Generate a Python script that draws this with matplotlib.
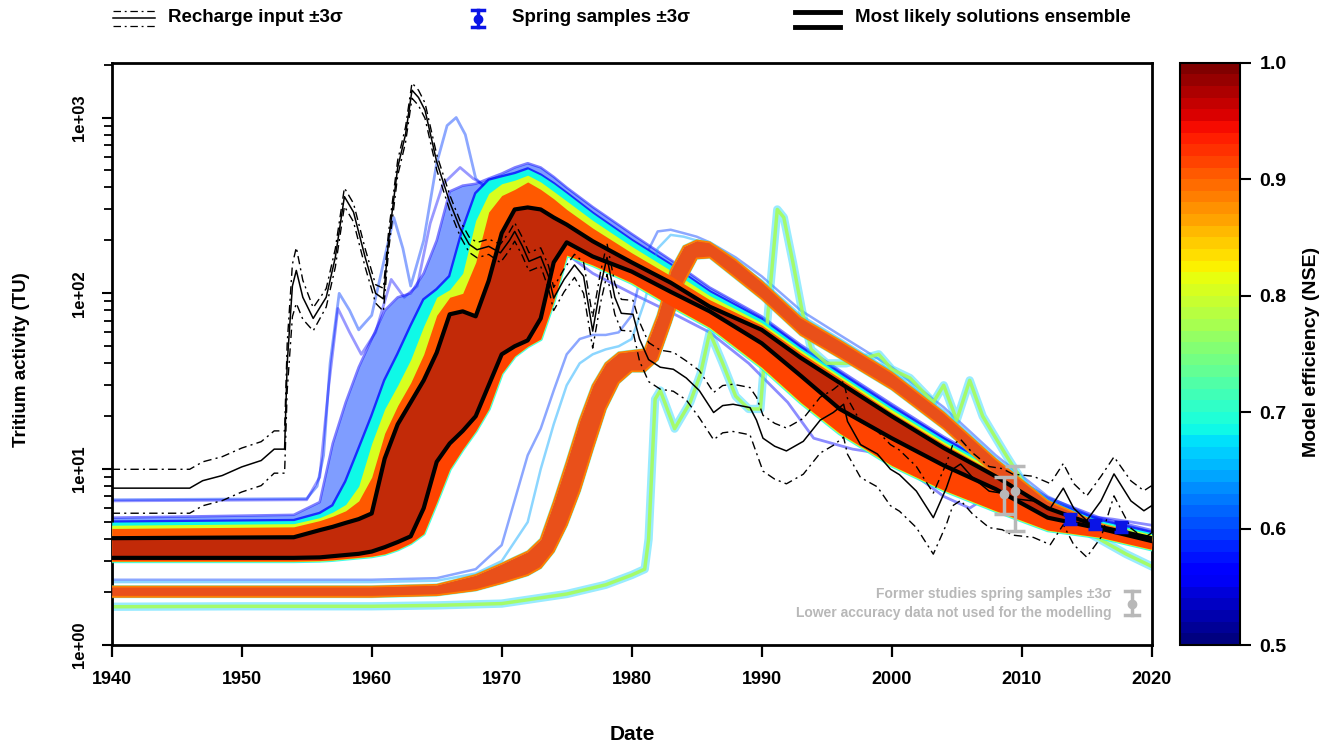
import numpy as np
import matplotlib
matplotlib.use('Agg')
import matplotlib.pyplot as plt
from matplotlib.colors import Normalize, ListedColormap
from matplotlib.cm import ScalarMappable
from matplotlib.lines import Line2D
from matplotlib.ticker import FixedLocator, LogLocator, NullFormatter

plt.rcParams['font.family'] = ['Liberation Sans', 'DejaVu Sans']
plt.rcParams['font.weight'] = 'bold'

#Recharge input (TU) and relative 3 sigma--------------------------------------------------------
rech_yr = [1940, 1946, 1947, 1948.5, 1950, 1951.5, 1952.5, 1953.3, 1953.5, 1953.9, 1954.2, 1954.7,
           1955.5, 1956.5, 1957.2, 1957.9, 1958.6, 1959.5, 1960.3, 1960.9, 1961.3, 1962.0, 1962.6,
           1963.1, 1963.6, 1964.1, 1965.0, 1966.0, 1966.8, 1967.5, 1968.1, 1969.0, 1969.9, 1970.6,
           1971.0, 1971.6, 1972.1, 1973.0, 1973.6, 1974.0, 1974.8, 1975.6, 1976.3, 1977.0, 1977.6,
           1978.1, 1978.7, 1979.2, 1980.1, 1980.6, 1981.3, 1982.2, 1983.2, 1984.2, 1985.2, 1986.3,
           1987.0, 1987.8, 1989.1, 1989.6, 1990.1, 1991.0, 1991.9, 1993.2, 1994.5, 1995.5, 1996.3,
           1996.6, 1997.6, 1998.9, 1999.9, 2000.6, 2001.9, 2003.2, 2004.2, 2004.7, 2005.3, 2006.2,
           2007.5, 2008.5, 2009.3, 2010.9, 2012.2, 2013.2, 2014.0, 2015.0, 2016.1, 2017.1, 2018.4,
           2019.4, 2020.0]
rech_val = [7.8, 7.8, 8.6, 9.2, 10.3, 11.2, 13.0, 13.0, 40, 110, 135, 95,
            72, 95, 160, 355, 290, 160, 100, 93, 200, 520, 800,
            1430, 1300, 1100, 560, 330, 235, 190, 177, 185, 170, 200,
            225, 185, 152, 162, 125, 94, 120, 145, 125, 61, 110,
            160, 95, 77, 76, 55, 42, 38, 37, 33, 28, 21,
            23, 23.4, 22.4, 19, 15, 13.5, 12.7, 14.4, 19, 21, 23.4,
            18.7, 13.8, 12.2, 10, 9.3, 7.5, 5.3, 7.8, 10, 10.7, 9.0,
            7.5, 7.3, 6.8, 6.6, 6.0, 7.8, 6.0, 5.1, 6.6, 9.4, 6.6,
            5.8, 6.2]
rech_err = [0.28, 0.28, 0.28, 0.28, 0.28, 0.28, 0.27, 0.27, 0.30, 0.33, 0.35, 0.25,
            0.15, 0.12, 0.12, 0.12, 0.12, 0.12, 0.12, 0.15, 0.12, 0.10, 0.10,
            0.10, 0.10, 0.10, 0.10, 0.10, 0.10, 0.10, 0.10, 0.10, 0.12, 0.12,
            0.12, 0.12, 0.12, 0.12, 0.15, 0.15, 0.15, 0.15, 0.20, 0.20, 0.20,
            0.20, 0.20, 0.20, 0.20, 0.25, 0.25, 0.25, 0.25, 0.25, 0.30, 0.30,
            0.30, 0.30, 0.30, 0.35, 0.35, 0.35, 0.35, 0.35, 0.35, 0.35, 0.35,
            0.35, 0.35, 0.35, 0.38, 0.38, 0.38, 0.38, 0.38, 0.38, 0.38, 0.38,
            0.38, 0.38, 0.38, 0.38, 0.38, 0.38, 0.38, 0.38, 0.38, 0.25, 0.30,
            0.30, 0.30]

#Main ensemble (members sorted by efficiency)-----------------------------------------------------
yrA = [1940, 1954, 1956, 1957, 1958, 1959, 1960, 1961, 1962, 1963, 1964, 1965, 1966, 1967, 1968,
       1969, 1970, 1971, 1972, 1973, 1974, 1975, 1977, 1980, 1983, 1986, 1990, 1993, 1996, 2000,
       2004, 2008, 2012, 2016, 2020]
A_blue = [5.3, 5.5, 6.5, 14, 24, 38, 55, 80, 95, 100, 130, 200, 380, 410, 420,
          450, 480, 520, 550, 520, 460, 400, 310, 218, 155, 108, 74, 51, 36.5, 23.5,
          15.3, 10.5, 6.9, 5.3, 4.5]
A_cyan = [5.0, 5.1, 5.6, 6.2, 8.5, 13, 20, 32, 45, 65, 92, 105, 125, 230, 370,
          440, 460, 480, 510, 470, 420, 370, 285, 200, 145, 102, 71, 49, 35, 22.5,
          14.8, 10.1, 6.6, 5.1, 4.35]
A_yellow = [4.8, 4.9, 5.3, 5.7, 6.3, 8, 14, 22, 30, 42, 65, 95, 105, 130, 260,
            370, 420, 440, 470, 430, 380, 335, 260, 185, 135, 97, 68, 47.5, 34, 21.8,
            14.3, 9.8, 6.4, 5.0, 4.25]
A_orange = [4.6, 4.7, 5.1, 5.4, 5.8, 6.6, 9, 16, 23, 31, 45, 75, 95, 100, 150,
            290, 360, 390, 430, 390, 345, 300, 235, 170, 126, 92, 66, 46, 33, 21,
            13.9, 9.5, 6.2, 4.85, 4.15]
A_hi = [4.05, 4.1, 4.5, 4.7, 4.95, 5.2, 5.6, 11.5, 18, 24, 32, 46, 76, 79, 74,
        118, 220, 300, 308, 300, 270, 246, 198, 150, 115, 84, 62, 43, 31, 20,
        13.2, 9.1, 6.0, 4.7, 4.05]
A_lo = [3.13, 3.13, 3.15, 3.2, 3.25, 3.3, 3.4, 3.6, 3.85, 4.15, 6.0, 11, 14, 16.5, 20,
        30, 45, 50, 54, 72, 150, 195, 162, 133, 102, 79, 52, 34, 22, 15,
        10.5, 7.7, 5.3, 4.6, 3.9]
A_late = [3.0, 3.0, 3.02, 3.05, 3.1, 3.15, 3.2, 3.3, 3.5, 3.8, 4.3, 6.5, 10, 13, 16.5,
          22, 35, 44, 50, 55, 90, 165, 145, 115, 85, 64, 38, 24, 16, 10.5,
          7.6, 5.8, 4.5, 4.1, 3.5]

# blue members of the main ensemble that decay faster
ABL_yr = [1974, 1977, 1980, 1983, 1986, 1989, 1992, 1994, 1997, 2000, 2002, 2004, 2006, 2008,
          2011, 2014, 2017, 2020]
ABL_val = [190, 130, 100, 78, 60, 40, 24, 15, 13, 12, 9, 7, 6, 7.5, 6, 5.5, 5.2, 4.8]

# blue members following the input peaks
D1_yr = [1940, 1955, 1955.8, 1956.3, 1956.8, 1957.5, 1958.3, 1959, 1960, 1961, 1961.7, 1962.4,
         1963, 1964, 1965, 1965.8, 1966.5, 1967.2, 1968, 1969, 1970, 1972, 1974, 1977]
D1_val = [6.7, 6.8, 8, 12, 40, 100, 80, 62, 75, 160, 270, 180,
          110, 200, 550, 900, 1000, 800, 450, 380, 420, 450, 350, 260]
D2_yr = [1940, 1955, 1956, 1956.7, 1957.4, 1958.3, 1959.2, 1960.3, 1961.5, 1962.5, 1963.5,
         1964.5, 1965.5, 1966.8, 1967.8, 1969, 1970.5, 1972, 1974, 1977]
D2_val = [6.6, 6.7, 9, 30, 82, 60, 45, 60, 120, 95, 110,
          250, 420, 520, 450, 400, 430, 460, 360, 270]

#Second ensemble (late arrival)--------------------------------------------------------------------
yrB = [1940, 1960, 1965, 1968, 1970, 1972, 1973, 1974, 1975, 1976, 1977, 1978, 1979, 1980, 1981,
       1982, 1983, 1984, 1985, 1986, 1988, 1990, 1993, 1996, 2000, 2004, 2008, 2012, 2016, 2020]
B_hi = [2.15, 2.15, 2.2, 2.5, 2.9, 3.4, 4.0, 6.5, 11, 19, 30, 40, 46, 47, 48,
        75, 135, 185, 200, 195, 155, 117, 73, 54, 35.5, 21, 11.4, 6.6, 4.9, 4.05]
B_lo = [1.88, 1.88, 1.92, 2.05, 2.25, 2.5, 2.75, 3.4, 4.8, 7.5, 13, 22, 31, 36, 36,
        42, 68, 115, 158, 160, 122, 93, 58, 43, 28.5, 17, 9.2, 5.7, 4.3, 3.65]
B_blue1 = [2.35, 2.35, 2.4, 2.7, 3.7, 12, 17, 28, 45, 55, 58, 58, 60, 75, 160,
           225, 230, 220, 210, 195, 160, 125, 80, 58, 38, 22.5, 12, 7, 5.1, 4.2]
B_blue2 = [2.28, 2.28, 2.32, 2.55, 3.0, 5, 10, 18, 30, 40, 45, 48, 50, 55, 90,
           180, 215, 210, 200, 190, 150, 118, 75, 55, 36, 21.5, 11.5, 6.7, 4.9, 4.1]

#Third ensemble (very late, lower efficiency)------------------------------------------------------
yrC = [1940, 1950, 1960, 1965, 1970, 1975, 1978, 1980, 1981, 1981.3, 1981.8, 1982.2, 1983.3,
       1984.5, 1985.3, 1986, 1987, 1988, 1989, 1989.9, 1990.5, 1991.2, 1991.7, 1992.4, 1993.1,
       1993.8, 1995, 1996.5, 1998, 1999, 2000, 2001.4, 2003.2, 2004, 2005, 2006, 2007, 2008.8,
       2010.4, 2012.4, 2015, 2018, 2020]
C_val = [1.65, 1.66, 1.66, 1.68, 1.72, 1.95, 2.2, 2.5, 2.7, 4, 25, 28, 17,
         24, 35, 60, 40, 26, 22, 22, 80, 300, 270, 150, 80,
         48, 40, 40, 43, 45, 37, 33, 24, 30, 19, 32, 20, 12,
         7.8, 6.0, 4.4, 3.3, 2.8]

#Spring samples------------------------------------------------------------------------------------
spr_yr = [2013.7, 2015.6, 2017.6]
spr_val = [5.2, 4.85, 4.7]
spr_err = [0.35, 0.3, 0.3]
old_yr = [2008.6, 2009.5]
old_val = [7.2, 7.5]
old_lo = [5.55, 4.45]
old_hi = [9.0, 10.4]

W, H = 1338, 746
cmap = ListedColormap(plt.get_cmap('jet')(np.linspace(0, 1, 50)))
norm = Normalize(0.5, 1.0)
GREY = '#b8b8b8'
BLUE = '#0a14e6'


def col(nse):
    return cmap(norm(nse))


def px(x, y):
    return x / W, 1 - y / H


fig = plt.figure(figsize=(W / 100, H / 100), dpi=100)
ax = fig.add_axes([111.7 / W, 1 - 645 / H, 1040 / W, 582.3 / H])
cax = fig.add_axes([1180 / W, 1 - 645 / H, 60 / W, 582.3 / H])

# low efficiency members first
ax.plot(D1_yr, D1_val, color=col(0.6), lw=2, alpha=0.45, zorder=1)
ax.plot(D2_yr, D2_val, color=col(0.57), lw=2, alpha=0.4, zorder=1)
ax.fill_between(yrA, A_lo, A_blue, color=col(0.6), alpha=0.5, lw=0, zorder=1)
ax.plot(yrA, A_blue, color=col(0.57), lw=1.8, alpha=0.5, zorder=1)
ax.plot(yrA, A_cyan, color=col(0.58), lw=2.5, alpha=0.8, zorder=1)
ax.plot(ABL_yr, ABL_val, color=col(0.57), lw=2, alpha=0.45, zorder=1)
ax.plot(yrB, B_blue1, color=col(0.6), lw=1.8, alpha=0.45, zorder=1)
ax.plot(yrB, B_blue2, color=col(0.64), lw=1.8, alpha=0.45, zorder=1)

ax.plot(yrC, C_val, color=col(0.66), lw=6, alpha=0.4, zorder=2)
ax.plot(yrC, C_val, color=col(0.77), lw=2.5, alpha=0.85, zorder=2)

ax.fill_between(yrA, A_lo, A_cyan, color=col(0.69), lw=0, zorder=3)
ax.fill_between(yrA, A_lo, A_yellow, color=col(0.8), lw=0, zorder=3)
ax.plot(yrA, A_late, color=col(0.68), lw=3, alpha=0.8, zorder=3)
ax.plot(yrA, A_late, color=col(0.8), lw=1.5, zorder=3)

ax.plot(yrB, B_hi, color=col(0.7), lw=2, alpha=0.6, zorder=4)
ax.plot(yrB, B_lo, color=col(0.7), lw=2, alpha=0.6, zorder=4)
ax.fill_between(yrB, B_lo, B_hi, color='#e9501a', lw=0, zorder=4)
ax.plot(yrB, B_hi, color=col(0.88), lw=1.3, zorder=4)
ax.plot(yrB, B_lo, color=col(0.88), lw=1.3, zorder=4)

ax.fill_between(yrA, A_lo, A_orange, color=col(0.9), lw=0, zorder=5)
ax.fill_between(yrA, A_late, A_lo, color=col(0.91), lw=0, zorder=5)
ax.fill_between(yrA, A_lo, A_hi, color='#c22a08', lw=0, zorder=6)
ax.plot(yrA, A_hi, color='black', lw=3, zorder=7)
ax.plot(yrA, A_lo, color='black', lw=3, zorder=7)

# recharge input and its 3 sigma bounds
rv = np.array(rech_val)
re = np.array(rech_err)
dashdot = (0, (6, 3, 1.5, 3))
ax.plot(rech_yr, rv, color='black', lw=1.1, zorder=8)
ax.plot(rech_yr, rv * (1 + re), color='black', lw=1.0, ls=dashdot, zorder=8)
ax.plot(rech_yr, rv * (1 - re), color='black', lw=1.0, ls=dashdot, zorder=8)

# samples
ov = np.array(old_val)
ax.errorbar(old_yr, old_val, yerr=[ov - np.array(old_lo), np.array(old_hi) - ov], fmt='o',
            color=GREY, ms=6, elinewidth=2.5, capsize=7, capthick=2.5, zorder=9)
ax.errorbar(spr_yr, spr_val, yerr=spr_err, fmt='s', color=BLUE, ms=7, elinewidth=4,
            capsize=5, capthick=2.5, zorder=10)

ax.set_xlim(1940, 2020)
ax.set_yscale('log')
ax.set_ylim(1, 2050)
ax.set_xticks(range(1940, 2021, 10))
ax.set_xticklabels([str(y) for y in range(1940, 2021, 10)], fontsize=13)
ax.yaxis.set_major_locator(FixedLocator([1, 10, 100, 1000]))
ax.set_yticklabels(['1e+00', '1e+01', '1e+02', '1e+03'], rotation=90, va='center', fontsize=12)
ax.yaxis.set_minor_locator(LogLocator(base=10, subs=np.arange(2, 10)))
ax.yaxis.set_minor_formatter(NullFormatter())
ax.tick_params(axis='x', length=8.5, width=1.6, pad=10)
ax.tick_params(axis='y', which='major', length=7, width=1.5, pad=11)
ax.tick_params(axis='y', which='minor', length=6, width=1.3)
for s in ax.spines.values():
    s.set_linewidth(2)
fig.text(*px(632, 735), 'Date', fontsize=15, ha='center', va='center')
fig.text(*px(22, 360), 'Tritium activity (TU)', fontsize=13.5, rotation=90, ha='center', va='center')

# colour bar
cb = fig.colorbar(ScalarMappable(norm=norm, cmap=cmap), cax=cax)
cb.set_ticks([0.5, 0.6, 0.7, 0.8, 0.9, 1.0])
cb.set_ticklabels(['0.5', '0.6', '0.7', '0.8', '0.9', '1.0'])
cax.tick_params(length=8, width=1.5, labelsize=14, pad=6)
cb.outline.set_linewidth(1.5)
fig.text(*px(1312, 352), 'Model efficiency (NSE)', rotation=90, ha='center', va='center', fontsize=14)

# legend on top
lx0, lx1 = px(113, 0)[0], px(155, 0)[0]
fig.add_artist(Line2D([lx0, lx1], [px(0, 11)[1]] * 2, transform=fig.transFigure, color='black', lw=0.9, ls=dashdot))
fig.add_artist(Line2D([lx0, lx1], [px(0, 18)[1]] * 2, transform=fig.transFigure, color='black', lw=1.1))
fig.add_artist(Line2D([lx0, lx1], [px(0, 26)[1]] * 2, transform=fig.transFigure, color='black', lw=0.9, ls=dashdot))
fig.text(*px(168, 18), 'Recharge input \u00b13\u03c3', fontsize=13.5, va='center')

fig.add_artist(Line2D([px(478, 0)[0]] * 2, [px(0, 10)[1], px(0, 27)[1]], transform=fig.transFigure, color=BLUE, lw=2.5))
for yy in (10, 27):
    fig.add_artist(Line2D([px(472, 0)[0], px(484, 0)[0]], [px(0, yy)[1]] * 2, transform=fig.transFigure, color=BLUE, lw=2.5))
fig.add_artist(Line2D([px(478, 0)[0]], [px(0, 18.5)[1]], transform=fig.transFigure, color=BLUE, marker='o', ms=6))
fig.text(*px(512, 18), 'Spring samples \u00b13\u03c3', fontsize=13.5, va='center')

for yy in (12, 27):
    fig.add_artist(Line2D([px(795, 0)[0], px(840, 0)[0]], [px(0, yy)[1]] * 2, transform=fig.transFigure, color='black', lw=3.5))
fig.text(*px(855, 18), 'Most likely solutions ensemble', fontsize=13.5, va='center')

# legend for former studies
fig.text(*px(1112, 594), 'Former studies spring samples \u00b13\u03c3', color=GREY, fontsize=10, ha='right', va='center')
fig.text(*px(1112, 613), 'Lower accuracy data not used for the modelling', color=GREY, fontsize=10, ha='right', va='center')
fig.add_artist(Line2D([px(1132, 0)[0]] * 2, [px(0, 591)[1], px(0, 615)[1]], transform=fig.transFigure, color=GREY, lw=2.5))
for yy in (591, 615):
    fig.add_artist(Line2D([px(1125, 0)[0], px(1139, 0)[0]], [px(0, yy)[1]] * 2, transform=fig.transFigure, color=GREY, lw=2.5))
fig.add_artist(Line2D([px(1132, 0)[0]], [px(0, 604)[1]], transform=fig.transFigure, color=GREY, marker='o', ms=6))

fig.savefig('out.png', dpi=100)
